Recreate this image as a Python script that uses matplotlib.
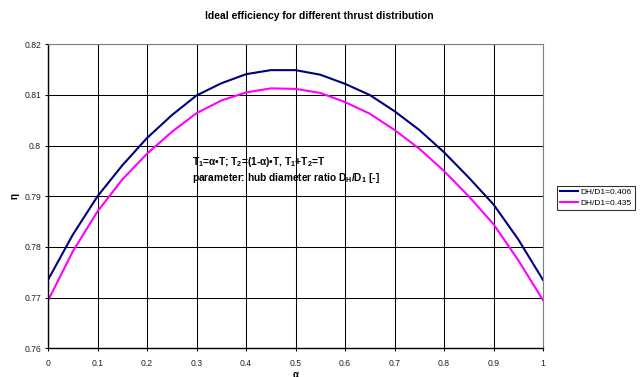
import matplotlib
matplotlib.use('Agg')
from matplotlib import pyplot as plt

plt.rcParams['font.family'] = ['Liberation Sans', 'DejaVu Sans']
plt.rcParams['mathtext.fontset'] = 'custom'
plt.rcParams['mathtext.rm'] = 'Liberation Sans:bold'
plt.rcParams['mathtext.bf'] = 'Liberation Sans:bold'
plt.rcParams['mathtext.default'] = 'bf'

alpha = [0.0, 0.05, 0.1, 0.15, 0.2, 0.25, 0.3, 0.35, 0.4, 0.45, 0.5,
         0.55, 0.6, 0.65, 0.7, 0.75, 0.8, 0.85, 0.9, 0.95, 1.0]
eta_406 = [0.7735, 0.7824, 0.7900, 0.7961, 0.8015, 0.8060, 0.8099, 0.8123, 0.8141, 0.8149, 0.8149,
           0.8140, 0.8122, 0.8100, 0.8068, 0.8031, 0.7987, 0.7937, 0.7884, 0.7815, 0.7735]
eta_435 = [0.7694, 0.7791, 0.7870, 0.7933, 0.7984, 0.8027, 0.8064, 0.8089, 0.8105, 0.8113, 0.8112,
           0.8104, 0.8086, 0.8063, 0.8031, 0.7994, 0.7950, 0.7900, 0.7845, 0.7774, 0.7695]
labels = ['DH/D1=0.406', 'DH/D1=0.435']
xticks = [0, 0.1, 0.2, 0.3, 0.4, 0.5, 0.6, 0.7, 0.8, 0.9, 1]
xticklabels = ['0', '0.1', '0.2', '0.3', '0.4', '0.5', '0.6', '0.7', '0.8', '0.9', '1']
yticks = [0.76, 0.77, 0.78, 0.79, 0.8, 0.81, 0.82]
yticklabels = ['0.76', '0.77', '0.78', '0.79', '0.8', '0.81', '0.82']

fig = plt.figure(figsize=(6.44, 3.77), dpi=100)
ax = fig.add_axes([48/644, 1-348.3/377, 495/644, 304/377])

ax.plot(alpha, eta_406, color='#000080', lw=1.5, label=labels[0])
ax.plot(alpha, eta_435, color='#ff00ff', lw=1.5, label=labels[1])

ax.set_xlim(0, 1)
ax.set_ylim(0.76, 0.82)
ax.set_xticks(xticks)
ax.set_xticklabels(xticklabels)
ax.set_yticks(yticks)
ax.set_yticklabels(yticklabels)
ax.grid(True, color='black', lw=0.75)
ax.tick_params(labelsize=6.2, length=2.5, width=0.75, color='black', labelcolor='#222222')
ax.tick_params(axis='x', pad=5)
ax.tick_params(axis='y', pad=2.5)
for s in ['top', 'right']:
    ax.spines[s].set_color('#808080')
for s in ['left', 'bottom']:
    ax.spines[s].set_color('black')
    ax.spines[s].set_linewidth(1.0)

fig.text(319/644, 1-16/377, 'Ideal efficiency for different thrust distribution',
         ha='center', va='center', fontsize=7.5, fontweight='bold')
fig.text(15/644, 1-196/377, 'η', ha='center', va='center', fontsize=7, fontweight='bold', rotation=90)
fig.text(296/644, 1-375/377, 'α', ha='center', va='center', fontsize=7, fontweight='bold')

ax.text(0.29, 0.7967, r'T$_1$=α•T; T$_2$=(1-α)•T, T$_1$+T$_2$=T',
        fontsize=7.3, fontweight='bold', va='center')
ax.text(0.29, 0.7937, r'parameter: hub diameter ratio D$_H$/D$_1$ [-]',
        fontsize=7.3, fontweight='bold', va='center')

leg = fig.legend(loc='center left', bbox_to_anchor=(557/644, 1-197.5/377), fontsize=6,
                 frameon=True, fancybox=False, edgecolor='black', borderpad=0.35,
                 handlelength=2.2, handletextpad=0.3, labelspacing=0.3, borderaxespad=0)
leg.get_frame().set_linewidth(0.8)

fig.savefig('out.png', dpi=100)
